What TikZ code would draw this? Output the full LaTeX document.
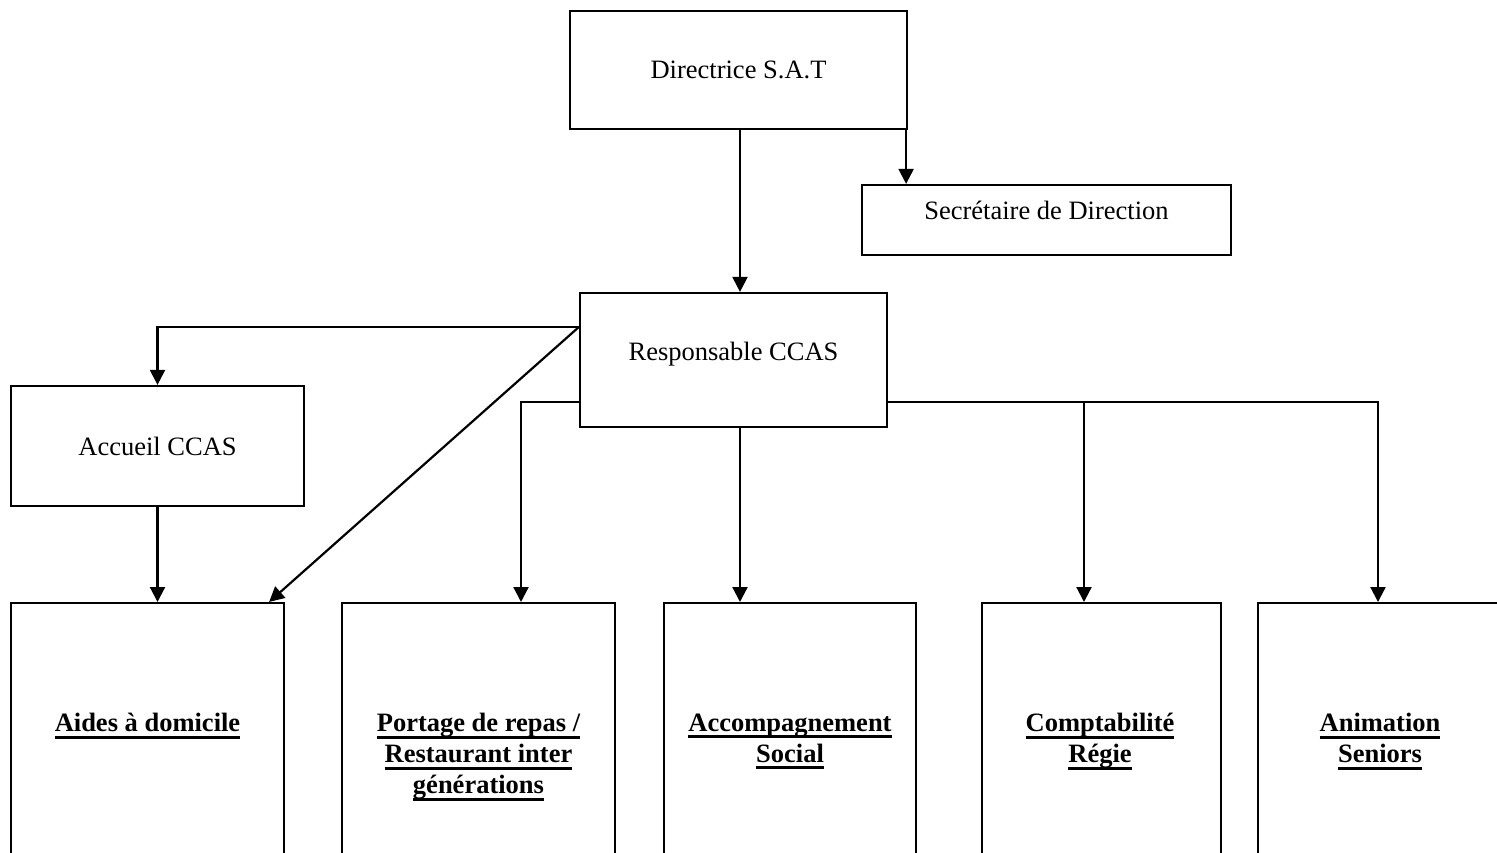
\documentclass[tikz,border=0pt]{standalone}
\usepackage{fontspec}
\setmainfont{Liberation Serif}
\newcommand{\myul}[1]{\setbox0\hbox{#1}\rlap{\rule[-7pt]{\wd0}{3pt}}\box0}
\usetikzlibrary{arrows.meta}
\begin{document}
\begin{tikzpicture}[x=1pt,y=-1pt,
  box/.style={draw,line width=2.2pt,inner sep=0pt,font=\fontsize{26.5}{31}\selectfont},
  lbl/.style={inner sep=0pt,align=center,font=\fontsize{26.5}{31}\selectfont\bfseries},
  arr/.style={line width=2.2pt,-{Triangle[length=15pt,width=15pt]}},
  con/.style={line width=2.2pt}]
\useasboundingbox (0,0) rectangle (1497,853);
\clip (0,0) rectangle (1497,853);
% top boxes
\node[box,minimum width=337pt,minimum height=118pt] (dir) at (738.5,70) {Directrice S.A.T};
\node[box,minimum width=369pt,minimum height=70pt,text height=18pt,text depth=18pt] (sec) at (1046.5,220) {Secrétaire de Direction};
\node[box,minimum width=307pt,minimum height=134pt,text height=18pt,text depth=18pt] (resp) at (733.5,360) {Responsable CCAS};
\node[box,minimum width=293pt,minimum height=120pt] (acc) at (157.5,446) {Accueil CCAS};
% bottom boxes (cut by the lower edge)
\node[box,anchor=north,minimum width=273pt,minimum height=300pt] (aides) at (147.5,602) {};
\node[box,anchor=north,minimum width=273pt,minimum height=300pt] (port) at (478.5,602) {};
\node[box,anchor=north,minimum width=252pt,minimum height=300pt] (accomp) at (790,602) {};
\node[box,anchor=north,minimum width=239pt,minimum height=300pt] (compta) at (1101.5,602) {};
\node[box,anchor=north,minimum width=244pt,minimum height=300pt] (anim) at (1380,602) {};
% bottom labels
\node[lbl] (aidesT) at (147.5,726) {\myul{Aides à domicile}};
\node[lbl] (portT) at (478.5,757) {\myul{Portage de repas /}\\\myul{Restaurant inter}\\\myul{générations}};
\node[lbl] (accompT) at (790,741.5) {\myul{Accompagnement}\\\myul{Social}};
\node[lbl] (comptaT) at (1100,741.5) {\myul{Comptabilité}\\\myul{Régie}};
\node[lbl] (animT) at (1380,741.5) {\myul{Animation}\\\myul{Seniors}};
% helper coordinates
\coordinate (dx) at ([xshift=1.5pt]dir.south);
\coordinate (ds) at ([xshift=-2pt]dir.south east);
\coordinate (rl1) at ([yshift=33pt]resp.west);
\coordinate (rl2) at ([yshift=-42pt]resp.west);
\coordinate (rr2) at ([yshift=-42pt]resp.east);
\coordinate (rs) at ([xshift=6.5pt]resp.south);
\coordinate (pa) at ([xshift=42.5pt]port.north);
\coordinate (ca) at ([xshift=-17.5pt]compta.north);
\coordinate (aa) at ([xshift=-2pt]anim.north);
\coordinate (ad) at ([xshift=-16pt]aides.north east);
% connectors
\draw[arr] (dx) -- (dx |- resp.north);
\draw[arr] (ds) -- (ds |- sec.north);
\draw[arr] (rl1) -| (acc.north);
\draw[arr] (rl1) -- (ad);
\draw[arr] (acc.south) -- (acc.south |- aides.north);
\draw[arr] (rl2) -| (pa);
\draw[arr] (rs) -- (rs |- accomp.north);
\draw[arr] (rr2) -| (aa);
\draw[arr] (ca |- rr2) -- (ca);
\end{tikzpicture}
\end{document}
